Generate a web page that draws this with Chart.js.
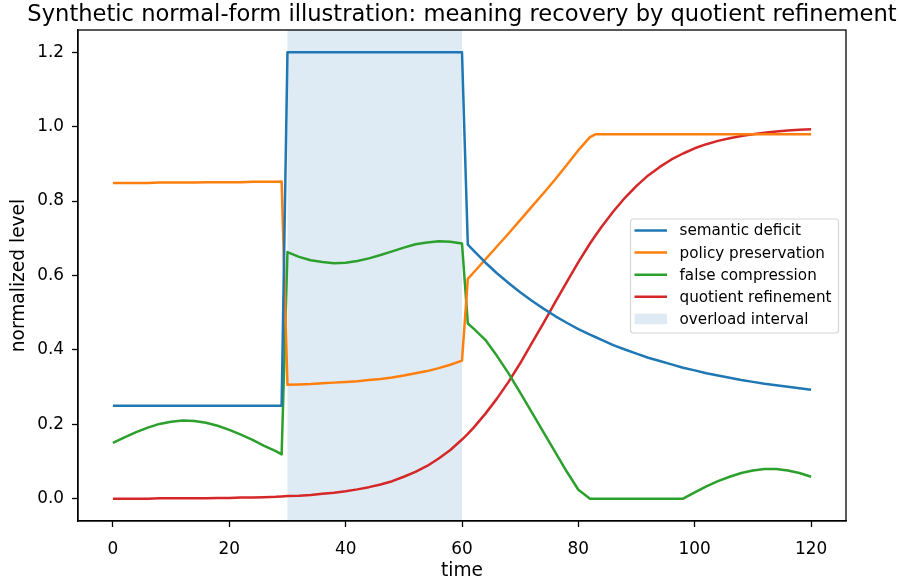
<!DOCTYPE html>
<html>
<head>
<meta charset="utf-8">
<title>Synthetic normal-form illustration</title>
<script src="https://cdn.jsdelivr.net/npm/chart.js@4.4.1/dist/chart.umd.min.js"></script>
<style>
    html, body { margin:0; padding:0; background:#fff; }
    #wrap { width:899px; height:584px; }
</style>
</head>
<body>
<div id="wrap"><canvas id="chart" width="899" height="584"></canvas></div>
<script>
// Values
const time = [0,2,4,6,8,10,12,14,16,18,20,22,24,26,28,29,
    30,32,34,36,38,40,42,44,46,48,50,52,54,56,58,60,
    61,62,64,66,68,70,72,74,76,78,80,82,83,
    84,86,88,90,92,94,96,98,100,102,104,106,108,110,112,114,116,118,120];

const semanticDeficit = [0.25,0.25,0.25,0.25,0.25,0.25,0.25,0.25,0.25,0.25,0.25,0.25,0.25,0.25,0.25,0.25,
    1.2,1.2,1.2,1.2,1.2,1.2,1.2,1.2,1.2,1.2,1.2,1.2,1.2,1.2,1.2,1.2,
    0.683,0.667,0.635,0.606,0.580,0.555,0.532,0.511,0.491,0.473,0.456,0.441,0.434,
    0.427,0.413,0.401,0.390,0.379,0.370,0.361,0.352,0.345,0.337,0.331,0.325,0.319,0.314,0.309,0.305,0.301,0.297,0.293];

const policyPreservation = [0.849,0.849,0.849,0.849,0.850,0.850,0.850,0.850,0.851,0.851,0.851,0.851,0.852,0.852,0.852,0.853,
    0.306,0.307,0.308,0.310,0.312,0.314,0.316,0.319,0.322,0.326,0.331,0.337,0.343,0.351,0.360,0.371,
    0.591,0.608,0.643,0.678,0.713,0.749,0.785,0.821,0.858,0.897,0.937,0.972,0.980,
    0.98,0.98,0.98,0.98,0.98,0.98,0.98,0.98,0.98,0.98,0.98,0.98,0.98,0.98,0.98,0.98,0.98,0.98,0.98];

const falseCompression = [0.150,0.165,0.179,0.191,0.201,0.207,0.210,0.209,0.204,0.196,0.185,0.172,0.158,0.142,0.128,0.119,
    0.663,0.650,0.641,0.636,0.633,0.634,0.639,0.646,0.655,0.665,0.675,0.684,0.689,0.692,0.691,0.686,
    0.471,0.457,0.427,0.384,0.337,0.285,0.232,0.179,0.126,0.073,0.024,0.0,0.0,
    0.0,0.0,0.0,0.0,0.0,0.0,0.0,0.0,0.017,0.033,0.047,0.059,0.069,0.076,0.080,0.080,0.076,0.069,0.059];

const quotientRefinement = [0.000,0.000,0.000,0.000,0.001,0.001,0.001,0.001,0.001,0.002,0.002,0.003,0.003,0.004,0.005,0.006,
    0.007,0.008,0.010,0.013,0.016,0.020,0.025,0.031,0.038,0.047,0.059,0.072,0.088,0.108,0.131,0.159,
    0.174,0.191,0.228,0.269,0.314,0.364,0.418,0.472,0.528,0.582,0.636,0.686,0.709,
    0.731,0.772,0.809,0.841,0.869,0.892,0.912,0.928,0.942,0.953,0.962,0.969,0.975,0.980,0.984,0.987,0.990,0.992,0.993];

const overload = [30, 60];

const chartTitle = 'Synthetic normal-form illustration: meaning recovery by quotient refinement';
const seriesNames = ['semantic deficit', 'policy preservation', 'false compression', 'quotient refinement'];
const seriesColors = ['#1f77b4', '#ff7f0e', '#2ca02c', '#d62728'];
const spanLabel = 'overload interval';
const spanColor = 'rgba(31,119,180,0.15)';

const FONT = '"DejaVu Sans", "Liberation Sans", sans-serif';

function pts(arr){ return time.map((t, i) => ({ x: t, y: arr[i] })); }

// shaded overload interval, drawn behind the lines
const spanPlugin = {
    id: 'overloadSpan',
    beforeDatasetsDraw(chart){
        const { ctx, chartArea: a, scales: { x } } = chart;
        const x0 = x.getPixelForValue(overload[0]);
        const x1 = x.getPixelForValue(overload[1]);
        ctx.save();
        ctx.fillStyle = spanColor;
        ctx.fillRect(x0, a.top, x1 - x0, a.bottom - a.top);
        ctx.restore();
    }
};

// full box around the axes + title centred over the axes (like matplotlib)
const framePlugin = {
    id: 'frame',
    afterDatasetsDraw(chart){
        const { ctx, chartArea: a } = chart;
        ctx.save();
        ctx.strokeStyle = '#000';
        ctx.lineWidth = 1.3;
        ctx.strokeRect(a.left, a.top, a.right - a.left, a.bottom - a.top);
        ctx.fillStyle = '#000';
        ctx.font = '22.6px ' + FONT;
        ctx.textAlign = 'center';
        ctx.textBaseline = 'alphabetic';
        ctx.fillText(chartTitle, (a.left + a.right) / 2, a.top - 9);
        ctx.restore();
    }
};

// matplotlib-like legend, centre right inside the axes
const legendPlugin = {
    id: 'boxLegend',
    afterDraw(chart){
        const { ctx, chartArea: a } = chart;
        const labels = seriesNames.concat([spanLabel]);
        ctx.save();
        ctx.font = '15.2px ' + FONT;
        const textW = Math.max(...labels.map(l => ctx.measureText(l).width));
        const pad = 4.5, handle = 32.5, gap = 12.5, rpad = 6.5, rowH = 22.1;
        const boxW = pad + handle + gap + textW + rpad;
        const boxH = 114;
        const right = a.right - 8;
        const left = right - boxW;
        const top = (a.top + a.bottom) / 2 - boxH / 2;

        ctx.beginPath();
        ctx.roundRect(left + 0.5, top + 0.5, boxW, boxH, 3);
        ctx.fillStyle = 'rgba(255,255,255,0.8)';
        ctx.fill();
        ctx.strokeStyle = '#d6d6d6';
        ctx.lineWidth = 1.2;
        ctx.stroke();

        labels.forEach((lab, i) => {
            const cy = top + 12 + i * rowH;
            const hx = left + pad;
            if(i < seriesColors.length){
                ctx.strokeStyle = seriesColors[i];
                ctx.lineWidth = 2.5;
                ctx.beginPath();
                ctx.moveTo(hx, cy);
                ctx.lineTo(hx + handle, cy);
                ctx.stroke();
            } else {
                ctx.fillStyle = spanColor;
                ctx.fillRect(hx, cy - 5.3, handle, 10.6);
            }
            ctx.fillStyle = '#000';
            ctx.textBaseline = 'middle';
            ctx.textAlign = 'left';
            ctx.fillText(lab, hx + handle + gap, cy + 1);
        });
        ctx.restore();
    }
};

const datasets = [semanticDeficit, policyPreservation, falseCompression, quotientRefinement].map((arr, i) => ({
    label: seriesNames[i],
    data: pts(arr),
    borderColor: seriesColors[i],
    backgroundColor: seriesColors[i],
    borderWidth: 2.5,
    pointRadius: 0,
    tension: 0,
    fill: false,
    borderJoinStyle: 'round',
    borderCapStyle: 'butt'
}));

new Chart(document.getElementById('chart'), {
    type: 'line',
    data: { datasets },
    plugins: [spanPlugin, framePlugin, legendPlugin],
    options: {
        responsive: false,
        animation: false,
        devicePixelRatio: 1,
        layout: { padding: { left: 0, right: 53, top: 30, bottom: 0 } },
        plugins: {
            legend: { display: false },
            tooltip: { enabled: false },
            title: { display: false }
        },
        scales: {
            x: {
                type: 'linear',
                min: -6, max: 126,
                afterFit(scale){ scale.height = 63; },
                border: { display: true, color: '#000', width: 1.3 },
                grid: { display: true, drawOnChartArea: false, drawTicks: true, tickLength: 6, tickColor: '#000', tickWidth: 1.3 },
                ticks: { stepSize: 20, includeBounds: false, color: '#000', padding: 12, maxRotation: 0,
                    font: { family: FONT, size: 16.9 } },
                title: { display: true, text: 'time', color: '#000',
                    font: { family: FONT, size: 18.6 }, padding: { top: 0, bottom: 2 } }
            },
            y: {
                type: 'linear',
                min: -0.06, max: 1.26,
                afterFit(scale){ scale.width = 78; },
                border: { display: true, color: '#000', width: 1.3 },
                grid: { display: true, drawOnChartArea: false, drawTicks: true, tickLength: 6, tickColor: '#000', tickWidth: 1.3 },
                ticks: { stepSize: 0.2, includeBounds: false, color: '#000', padding: 8,
                    font: { family: FONT, size: 16.9 },
                    callback: v => v.toFixed(1) },
                title: { display: true, text: 'normalized level', color: '#000',
                    font: { family: FONT, size: 18.6 }, padding: { top: 8, bottom: 0 } }
            }
        }
    }
});
</script>
</body>
</html>
